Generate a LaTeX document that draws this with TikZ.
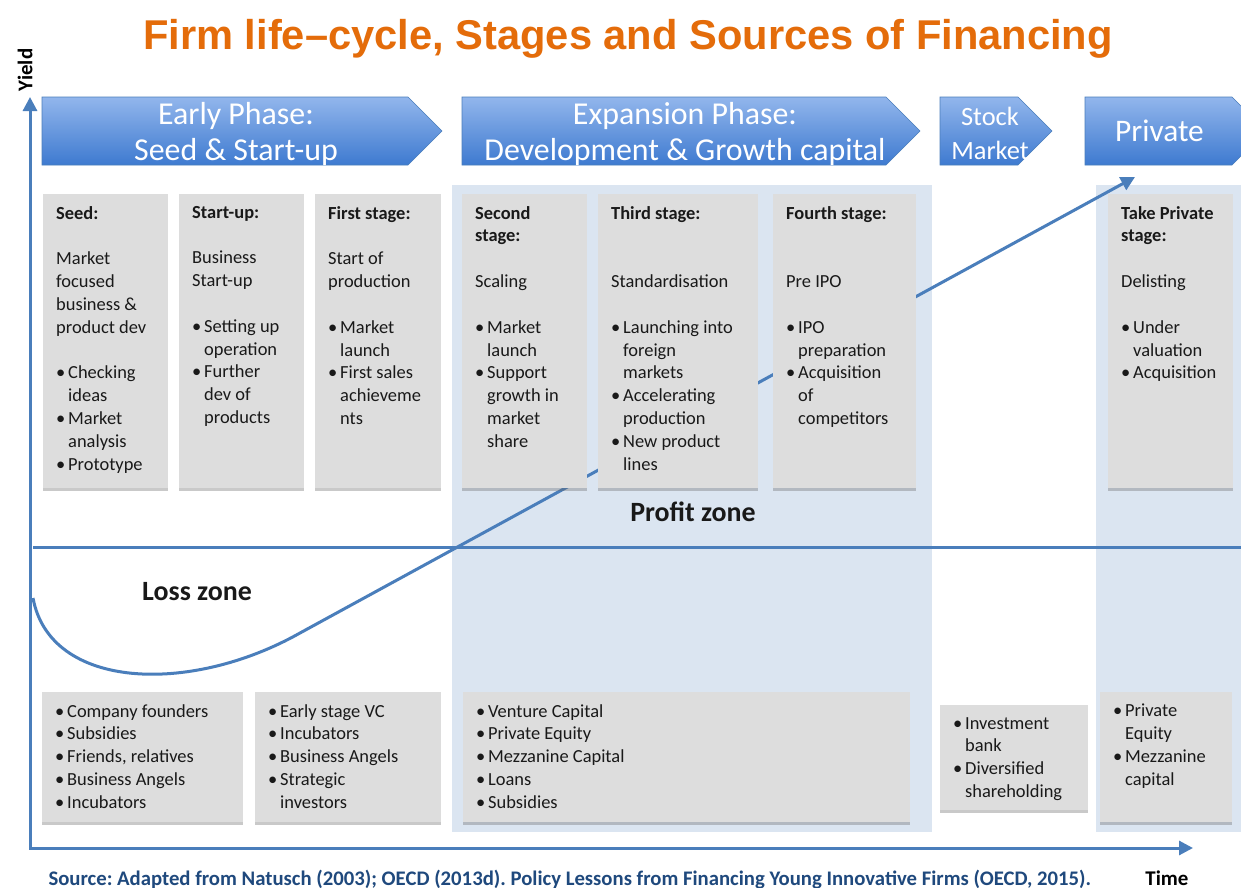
\documentclass[tikz,border=0pt]{standalone}
\usepackage{fontspec}
\setmainfont{Carlito}
\newfontfamily\titlefont{Liberation Sans}
\usetikzlibrary{shapes,backgrounds,arrows.meta,shadows}
\frenchspacing

\definecolor{lineblue}{RGB}{74,126,187}
\definecolor{zoneblue}{RGB}{219,229,241}
\definecolor{boxgrey}{RGB}{221,221,221}
\definecolor{phasetop}{RGB}{146,182,236}
\definecolor{phasebot}{RGB}{62,122,208}
\definecolor{titleorange}{RGB}{228,108,10}
\definecolor{sourceblue}{RGB}{31,73,125}
\definecolor{ink}{RGB}{25,25,25}

\tikzset{
	stagebox/.style={rectangle, fill=boxgrey, anchor=north west, inner sep=0pt,
		drop shadow={shadow xshift=0pt, shadow yshift=-2.5pt, opacity=.35, fill=black!60}},
	stagetext/.style={anchor=north west, inner sep=0pt, align=flush left, text width=200bp,
		text=ink, font=\fontsize{18.5}{22.9}\selectfont},
	phaseshade/.style={top color=phasetop, bottom color=phasebot, draw=lineblue, line width=.6bp},
	phasetext/.style={text=white, align=flush center, inner sep=0pt, font=\fontsize{32}{37}\selectfont},
	zonetext/.style={text=ink, font=\bfseries\fontsize{28}{32}\selectfont},
	blueline/.style={draw=lineblue, line width=3bp},
	tip/.style={-{Triangle[length=14bp,width=14bp]}},
}

% bullet item with hanging indent, and an empty line
\newcommand\bl[1]{\noindent\hangindent=12bp\hangafter=1\hbox to 12bp{\textbullet\hfil}{\let\\\newline#1}\par}
\newcommand\gap{\par\vspace{\baselineskip}}

% grey box: name, x, y, width, height, text
\newcommand\stage[6]{
	\node[stagebox, minimum width=#4bp, minimum height=#5bp] (#1) at (#2,#3) {};
	\node[stagetext] (#1txt) at ([xshift=13bp,yshift=-12bp]#1.north west) {#6};
	}

% phase arrow: [text options], name, left x, tip x, text
\newcommand\phase[5][]{
	\shade[phaseshade] (#3,97) -- (#4-34,97) -- (#4,131) -- (#4-34,165) -- (#3,165) -- cycle;
	\node[phasetext, #1] (#2) at ({(#3+#4)/2-6},134) {#5};
	}

\begin{document}
\begin{tikzpicture}[x=1bp,y=-1bp]
		\useasboundingbox (0,0) rectangle (1241,888);
		\fill[white] (0,0) rectangle (1241,888);

		% shaded columns
		\fill[zoneblue] (452,185) rectangle (932,832);
		\fill[zoneblue] (1096,185) rectangle (1241,832);

		% break-even line and yield curve
		\coordinate (zl) at (33,547);
		\coordinate (zr) at (1241,547);
		\draw[blueline] (zl) -- (zr);
		\coordinate (c0) at (33,598);
		\coordinate (c1) at (300,633);
		\coordinate (grow) at (1135,177);
		\draw[blueline, tip] (c0) .. controls (50,690) and (190,695) .. (c1) -- (grow);

		\node[font=\titlefont\bfseries\fontsize{41.8}{48}\selectfont, text=titleorange, anchor=base] (title) at (628,49) {Firm life–cycle, Stages and Sources of Financing};

		\phase{early}{42}{442}{Early Phase:\\Seed \& Start-up}
		\phase{expansion}{462}{920}{Expansion Phase:\\Development \& Growth capital}
		\phase[font=\fontsize{26.5}{34}\selectfont, yshift=1bp]{stock}{940}{1052}{Stock\\Market}
		\phase[font=\fontsize{31.5}{37}\selectfont, xshift=-10bp, yshift=3bp]{private}{1085}{1266}{Private}

		% stages
		\stage{seed}{43}{194}{125}{294}{{\bfseries Seed:}\gap Market\\focused\\business \&\\product dev\gap\bl{Checking\\ideas}\bl{Market\\analysis}\bl{Prototype}}
		\stage{startup}{179}{194}{125}{294}{{\bfseries Start-up:}\gap Business\\Start-up\gap\bl{Setting up\\operation}\bl{Further\\dev of\\products}}
		\stage{first}{315}{194}{126}{294}{{\bfseries First stage:}\gap Start of\\production\gap\bl{Market\\launch}\bl{First sales\\achieveme\\nts}}
		\stage{second}{462}{194}{125}{294}{{\bfseries Second\\stage:}\gap Scaling\gap\bl{Market\\launch}\bl{Support\\growth in\\market\\share}}
		\stage{third}{598}{194}{160}{294}{{\bfseries Third stage:}\gap\gap Standardisation\gap\bl{Launching into\\foreign\\markets}\bl{Accelerating\\production}\bl{New product\\lines}}
		\stage{fourth}{773}{194}{143}{294}{{\bfseries Fourth stage:}\gap\gap Pre IPO\gap\bl{IPO\\preparation}\bl{Acquisition\\of\\competitors}}
		\stage{takeprivate}{1108}{194}{125}{294}{{\bfseries Take Private\\stage:}\gap Delisting\gap\bl{Under\\valuation}\bl{Acquisition}}

		% sources of financing
		\stage{founders}{42}{692}{201}{130}{\bl{Company founders}\bl{Subsidies}\bl{Friends, relatives}\bl{Business Angels}\bl{Incubators}}
		\stage{earlyvc}{255}{692}{186}{130}{\bl{Early stage VC}\bl{Incubators}\bl{Business Angels}\bl{Strategic\\investors}}
		\stage{venture}{463}{692}{447}{130}{\bl{Venture Capital}\bl{Private Equity}\bl{Mezzanine Capital}\bl{Loans}\bl{Subsidies}}
		\stage{bank}{940}{705}{148}{105}{\bl{Investment\\bank}\bl{Diversified\\shareholding}}
		\stage{equity}{1100}{692}{132}{130}{\bl{Private\\Equity}\bl{Mezzanine\\capital}}

		\node[zonetext] (profit) at (693,512) {Profit zone};
		\node[zonetext] (loss) at (197,592) {Loss zone};

		% axes
		\coordinate (ytip) at (30,97);
		\coordinate (xtip) at (1193,848);
		\draw[blueline, {Triangle[length=14bp,width=14bp]}-{Triangle[length=14bp,width=14bp]}] (ytip) |- (xtip);
		\node[rotate=90, font=\bfseries\fontsize{21}{24}\selectfont] (yield) at (25,70) {Yield};
		\node[font=\bfseries\fontsize{21}{24}\selectfont, anchor=base] (time) at (1167,885) {Time};

		\node[anchor=base west, text=sourceblue, font=\bfseries\fontsize{20.8}{24}\selectfont] (source) at (45,885) {Source: Adapted from Natusch (2003); OECD (2013d). Policy Lessons from Financing Young Innovative Firms (OECD, 2015).};
\end{tikzpicture}
\end{document}
